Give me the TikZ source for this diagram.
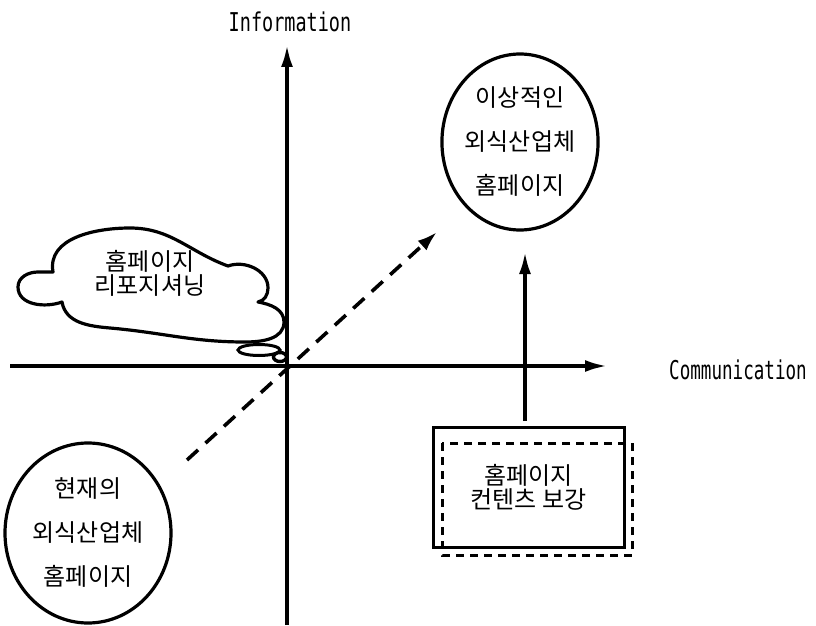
\documentclass[tikz,border=0pt]{standalone}
\usepackage{fontspec}
\newfontfamily\kr{Noto Sans CJK KR}
\newfontfamily\lab{DejaVu Sans Mono}
\usetikzlibrary{arrows.meta,shapes.geometric}
\begin{document}
\begin{tikzpicture}[x=1pt,y=1pt,
  axis/.style={line width=3.4pt,-{Latex[length=22pt,width=12pt]}},
  bubble/.style={ellipse,draw,line width=3.2pt,inner sep=0pt,align=center,
     font=\kr\fontsize{24}{44}\selectfont},
  krtext/.style={align=center,font=\kr\fontsize{24}{24}\selectfont},
  axlabel/.style={font=\lab\fontsize{18.5}{20}\selectfont,inner sep=0pt}]
\useasboundingbox (0,0) rectangle (816,625);
% axes
\coordinate (xl) at (10,625-366);
\coordinate (xr) at (607,625-366);
\coordinate (yb) at (287,0);
\coordinate (yt) at (287,625-45);
\draw[axis] (xl) -- (xr);
\draw[axis] (yb) -- (yt);
\node[axlabel] (info) at (290,625-22) {\scalebox{1}[1.4]{Information}};
\node[axlabel] (comm) at (738,625-370) {\scalebox{0.95}[1.4]{Communication}};
% ellipses
\node[bubble,minimum width=150pt,minimum height=176pt] (ideal) at (520,625-142)
  {이상적인\\외식산업체\\홈페이지};
\node[bubble,minimum width=166pt,minimum height=180pt] (cur) at (88,625-533)
  {현재의\\외식산업체\\홈페이지};
% content box
\node[draw,line width=3pt,minimum width=191pt,minimum height=120pt,krtext] (box) at (528.5,625-487)
  {홈페이지\\컨텐츠 보강};
\draw[line width=3pt,dash pattern=on 8pt off 6pt] (442,625-443) rectangle (632,625-555);
% arrows
\coordinate (ds) at (187,625-460);
\coordinate (de) at (437,625-232);
\draw[line width=3.6pt,dash pattern=on 15pt off 10pt,-{Latex[length=20pt,width=13pt]}] (ds) -- (de);
\coordinate (vs) at (525,625-421);
\coordinate (ve) at (525,625-252);
\draw[axis] (vs) -- (ve);
% cloud
\draw[line width=3.2pt,line join=round]
  (53,625-272) to[out=100,in=180] (130,625-228) to[out=0,in=160] (228,625-266)
  to[out=20,in=90] (268,625-288) to[out=-90,in=10] (258,625-302)
  to[out=-10,in=90] (284,625-322) to[out=-90,in=0] (245,625-342)
  to[out=180,in=-5] (110,625-328) to[out=175,in=-80] (62,625-302)
  to[out=200,in=-90] (18,625-287) to[out=90,in=180] (38,625-272)
  to[out=0,in=180] (53,625-272) -- cycle;
\node[krtext] (rep) at (150,625-273) {홈페이지\\리포지셔닝};
\node[ellipse,draw,line width=3pt,minimum width=42pt,minimum height=11pt,inner sep=0pt] (b1) at (259,625-350) {};
\node[ellipse,draw,line width=3.4pt,minimum width=13pt,minimum height=9pt,inner sep=0pt] (b2) at (280,625-357) {};
\end{tikzpicture}
\end{document}
